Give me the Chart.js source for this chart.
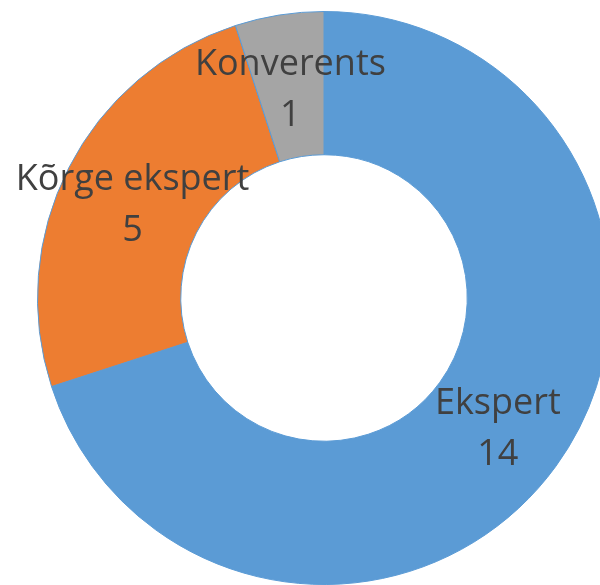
<!DOCTYPE html>
<html>
<head>
<meta charset="utf-8">
<script src="https://cdn.jsdelivr.net/npm/chart.js@4"></script>
<style>
    html, body { margin: 0; padding: 0; background: #ffffff; overflow: hidden; width: 600px; height: 585px; }
    #wrap { position: absolute; left: 0; top: 0; width: 620px; height: 585px; }
</style>
</head>
<body>
<div id="wrap"><canvas id="donut-chart"></canvas></div>
<script>
const categories = ['Ekspert', 'Kõrge ekspert', 'Konverents'];
const counts = [14, 5, 1];
const sliceColors = ['#5B9BD5', '#ED7D31', '#A5A5A5'];

// draws "name" and value in two lines at each slice's middle
const sliceLabels = {
    id: 'sliceLabels',
    afterDatasetsDraw(chart) {
        const ctx = chart.ctx;
        const meta = chart.getDatasetMeta(0);
        ctx.save();
        ctx.fillStyle = '#404040';
        ctx.font = '36px "Open Sans", sans-serif';
        ctx.textAlign = 'center';
        ctx.textBaseline = 'middle';
        meta.data.forEach((arc, i) => {
            const pos = arc.tooltipPosition();
            ctx.fillText(categories[i], pos.x, pos.y - 21);
            ctx.fillText(String(counts[i]), pos.x, pos.y + 30);
        });
        ctx.restore();
    }
};

new Chart(document.getElementById('donut-chart'), {
    type: 'doughnut',
    data: {
        labels: categories,
        datasets: [{
            data: counts,
            backgroundColor: sliceColors,
            borderColor: '#5B9BD5',
            borderWidth: 1
        }]
    },
    options: {
        responsive: true,
        maintainAspectRatio: false,
        animation: false,
        cutout: '50%',
        layout: { padding: { left: 37, right: 9, top: 11, bottom: 0 } },
        plugins: {
            legend: { display: false },
            tooltip: { enabled: false },
            title: { display: false }
        }
    },
    plugins: [sliceLabels]
});
</script>
</body>
</html>
